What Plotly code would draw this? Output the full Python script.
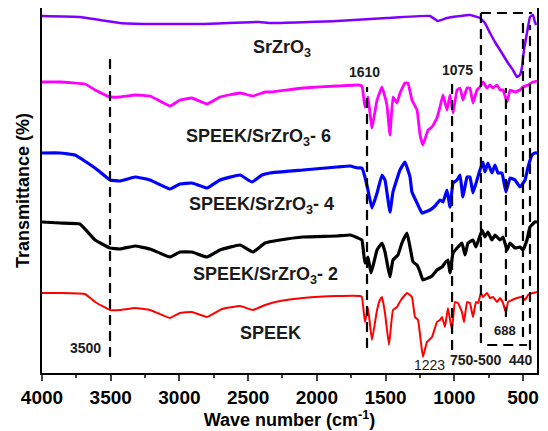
import plotly.graph_objects as go

# ---- data (wavenumber cm-1, relative transmittance, offset-stacked) ----
speek_wn = [4000, 3869, 3687, 3614, 3505, 3432, 3323, 3214, 3069, 2996, 2909, 2799, 2690, 2559, 2465, 2377, 2268, 2101, 1853, 1686, 1672, 1650, 1628, 1599, 1562, 1541, 1526, 1504, 1475, 1446, 1417, 1388, 1344, 1308, 1286, 1264, 1249, 1228, 1199, 1162, 1126, 1104, 1089, 1068, 1046, 1017, 995, 973, 944, 929, 907, 886, 864, 842, 827, 806, 791, 762, 740, 718, 689, 667, 645, 624, 609, 580, 544, 507, 485, 463, 427, 398]
speek_t = [80, 80, 79, 71, 63, 63, 65, 63, 55, 60, 61, 56, 64, 67, 63, 68, 72, 75, 77, 77, 76, 51, 65, 33, 63, 73, 76, 60, 28, 63, 66, 73, 80, 76, 56, 53, 38, 16, 31, 36, 51, 53, 56, 46, 65, 43, 71, 70, 61, 51, 71, 70, 56, 71, 70, 80, 76, 80, 75, 76, 71, 75, 70, 60, 71, 73, 75, 76, 73, 78, 80, 81]

s2_wn = [4000, 3869, 3724, 3614, 3505, 3432, 3323, 3214, 3069, 2996, 2909, 2799, 2705, 2559, 2465, 2377, 2268, 2101, 1853, 1759, 1701, 1672, 1650, 1628, 1606, 1584, 1562, 1526, 1504, 1490, 1468, 1446, 1410, 1381, 1344, 1322, 1300, 1271, 1249, 1228, 1191, 1162, 1126, 1089, 1068, 1046, 1031, 1009, 973, 944, 922, 900, 864, 842, 798, 777, 755, 726, 704, 667, 645, 616, 594, 558, 522, 500, 471, 449, 413, 398]
s2_t = [151, 150, 149, 133, 125, 124, 127, 124, 116, 121, 121, 116, 123, 128, 121, 130, 133, 136, 137, 138, 135, 133, 110, 116, 100, 111, 123, 130, 121, 111, 96, 113, 118, 130, 140, 126, 111, 108, 101, 93, 95, 97, 103, 106, 110, 113, 100, 120, 126, 130, 118, 130, 133, 126, 143, 136, 141, 133, 138, 133, 136, 123, 130, 125, 126, 123, 133, 146, 151, 151]

s4_wn = [4000, 3869, 3760, 3614, 3505, 3432, 3323, 3214, 3069, 2996, 2909, 2799, 2705, 2559, 2472, 2399, 2341, 2101, 1853, 1759, 1701, 1672, 1650, 1628, 1599, 1562, 1526, 1504, 1468, 1446, 1395, 1359, 1322, 1308, 1271, 1235, 1213, 1177, 1140, 1104, 1082, 1053, 1031, 1009, 980, 958, 937, 907, 886, 864, 835, 813, 791, 777, 755, 726, 704, 682, 653, 624, 594, 558, 522, 485, 463, 434, 413, 398]
s4_t = [220, 220, 218, 205, 193, 192, 196, 193, 184, 189, 190, 185, 193, 198, 191, 198, 200, 203, 206, 207, 205, 205, 196, 183, 165, 180, 198, 193, 161, 181, 203, 211, 196, 181, 170, 160, 161, 163, 167, 173, 171, 183, 166, 190, 193, 198, 176, 196, 196, 180, 193, 203, 211, 201, 210, 200, 208, 200, 200, 181, 195, 193, 186, 193, 206, 218, 220, 220]

s6_wn = [4000, 3869, 3687, 3614, 3505, 3432, 3323, 3214, 3069, 2996, 2909, 2799, 2705, 2559, 2465, 2377, 2341, 2101, 1853, 1701, 1672, 1650, 1628, 1599, 1562, 1526, 1504, 1490, 1468, 1446, 1417, 1395, 1359, 1337, 1308, 1271, 1249, 1228, 1191, 1162, 1126, 1104, 1082, 1053, 1031, 1009, 980, 958, 937, 907, 886, 864, 835, 813, 791, 762, 740, 718, 689, 667, 645, 616, 594, 558, 522, 500, 463, 427, 398]
s6_t = [291, 291, 289, 283, 276, 276, 278, 277, 267, 273, 275, 269, 276, 280, 277, 281, 281, 285, 287, 288, 287, 266, 276, 245, 273, 286, 276, 268, 238, 276, 270, 280, 290, 290, 273, 263, 238, 228, 243, 246, 255, 266, 278, 263, 278, 260, 283, 285, 273, 285, 285, 270, 283, 286, 291, 285, 288, 285, 288, 283, 283, 271, 283, 281, 283, 286, 288, 291, 292]

szo_wn = [4000, 3724, 3578, 3432, 3214, 2850, 2421, 2341, 1853, 1490, 1177, 1119, 1053, 886, 813, 777, 740, 704, 667, 609, 573, 544, 522, 507, 493, 471, 449, 427, 413, 405]
szo_t = [357, 356, 353, 350, 349, 349, 351, 350, 352, 355, 357, 352, 355, 358, 355, 350, 340, 331, 323, 310, 303, 296, 298, 306, 323, 340, 356, 358, 351, 348]

x_ticks = [4000, 3500, 3000, 2500, 2000, 1500, 1000, 500]

# marker lines (wavenumber, from T, to T)
vlines = [(3505, 16, 318), (1635, 25, 286), (1016, 23, 295), (806, 30, 360),
          (624, 56, 285), (500, 36, 353), (449, 23, 348)]
hlines = [(806, 435, 360), (760, 470, 28)]

FONT = "Arial, Liberation Sans, sans-serif"

fig = go.Figure()
series = [
    (speek_wn, speek_t, "#ff0000", 2.0, "SPEEK"),
    (s2_wn, s2_t, "#000000", 3.2, "SPEEK/SrZrO3-2"),
    (s4_wn, s4_t, "#0000ff", 3.2, "SPEEK/SrZrO3-4"),
    (s6_wn, s6_t, "#ff00ff", 2.8, "SPEEK/SrZrO3-6"),
    (szo_wn, szo_t, "#8000ff", 2.5, "SrZrO3"),
]
for wn, t, c, w, name in series:
    fig.add_trace(go.Scatter(x=wn, y=t, mode="lines", name=name,
                             line=dict(color=c, width=w, shape="spline", smoothing=0.3)))

shapes = []
for x, y0, y1 in vlines:
    shapes.append(dict(type="line", xref="x", yref="y", x0=x, x1=x, y0=y0, y1=y1,
                       line=dict(color="black", width=2.2, dash="10px,6px")))
for x0, x1, y in hlines:
    shapes.append(dict(type="line", xref="x", yref="y", x0=x0, x1=x1, y0=y, y1=y,
                       line=dict(color="black", width=2.2, dash="10px,6px")))

annots = [
    ("SrZrO<sub>3</sub>", 2254, 325, 18, "bold"),
    ("SPEEK/SrZrO<sub>3</sub>- 6", 2428, 236, 18, "bold"),
    ("SPEEK/SrZrO<sub>3</sub>- 4", 2406, 168, 18, "bold"),
    ("SPEEK/SrZrO<sub>3</sub>- 2", 2377, 98, 18, "bold"),
    ("SPEEK", 2334, 40, 18, "bold"),
    ("1610", 1650, 301, 14, "bold"),
    ("1075", 973, 303, 14, "bold"),
    ("3500", 3683, 25, 14, "bold"),
    ("1223", 1177, 8, 14, "normal"),
    ("750-500", 842, 13, 14, "bold"),
    ("440", 515, 13, 14, "bold"),
    ("688", 631, 43, 13, "bold"),
]
annotations = []
for txt, x, y, s, wgt in annots:
    annotations.append(dict(text=txt, x=x, y=y, xref="x", yref="y",
                            showarrow=False,
                            font=dict(family=FONT, size=s, color="#1a1a1a", weight=wgt),
                            xanchor="center", yanchor="middle"))

# page body has an 8px default margin, so the figure is sized/margined to compensate
fig.update_layout(
    width=540, height=423,
    margin=dict(l=34, r=11, t=0, b=58, autoexpand=False),
    paper_bgcolor="white", plot_bgcolor="white",
    showlegend=False,
    shapes=shapes, annotations=annotations,
    font=dict(family=FONT, color="black"),
    xaxis=dict(range=[4000, 398], tickvals=x_ticks,
               tickfont=dict(size=19, family=FONT, weight="bold"),
               ticks="outside", ticklen=6, tickwidth=2,
               minor=dict(dtick=250, ticks="outside", ticklen=3, tickwidth=2),
               showline=True, linewidth=2, linecolor="black", mirror=True,
               showgrid=False, zeroline=False, automargin=False,
               title=dict(text="Wave number (cm<sup>-1</sup>)",
                          font=dict(size=18, family=FONT, weight="bold"), standoff=2)),
    yaxis=dict(range=[0, 365], showticklabels=False, ticks="",
               showline=True, linewidth=2, linecolor="black", mirror=True,
               showgrid=False, zeroline=False, automargin=False,
               title=dict(text="Transmittance (%)",
                          font=dict(size=18, family=FONT, weight="bold"), standoff=6)),
)
fig.write_html("out.html")
